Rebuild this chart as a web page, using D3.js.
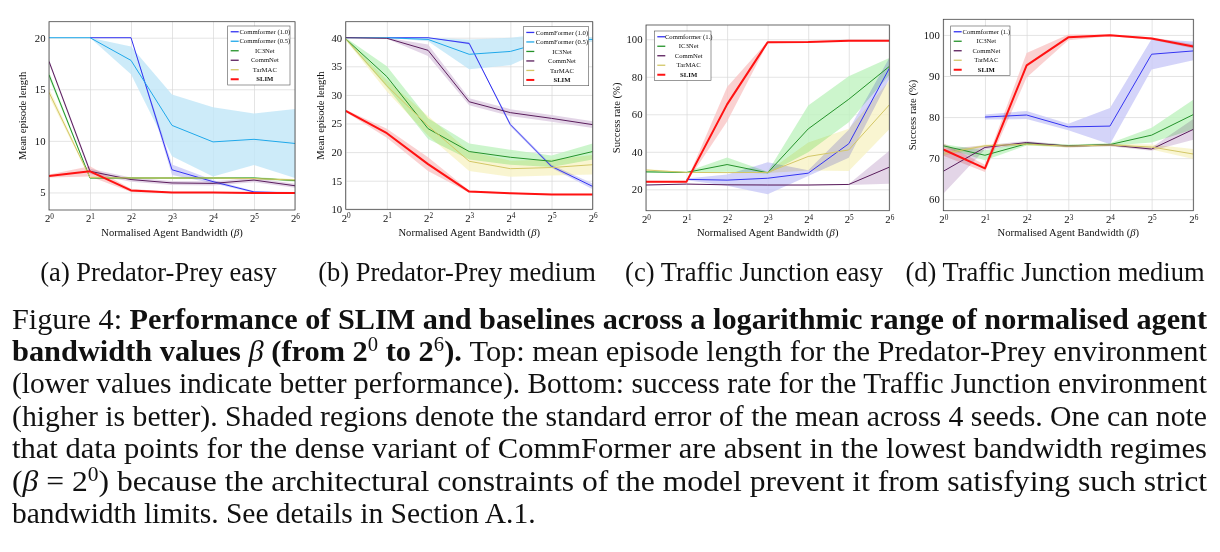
<!DOCTYPE html>
<html>
<head>
<meta charset="utf-8">
<script src="https://cdn.jsdelivr.net/npm/d3@7"></script>
<style>
  body { margin: 0; background: #fff; }
  svg text { font-family: "Liberation Serif", "DejaVu Serif", serif; fill: #111; }
</style>
</head>
<body>
<div id="chart"></div>
<script>
// normalised agent bandwidth values (beta = 2^0 .. 2^6)
let betas = [1, 2, 4, 8, 16, 32, 64];

// legend names
let ppEasyNames = ['Commformer (1.0)', 'Commformer (0.5)', 'IC3Net', 'CommNet', 'TarMAC', 'SLIM'];
let ppMediumNames = ['CommFormer (1.0)', 'CommFormer (0.5)', 'IC3Net', 'CommNet', 'TarMAC', 'SLIM'];
let tjNames = ['Commformer (1.)', 'IC3Net', 'CommNet', 'TarMAC', 'SLIM'];

// (a) Predator-Prey easy : mean episode length and standard error
let ppEasyCf10 = [null, 20, 20, 7.2, 6.05, 5.05, 4.95];
let ppEasyCf10Err = [null, 0, 0, 0.5, 0.15, 0.1, 0.1];
let ppEasyCf05 = [20, 20, 17.8, 11.5, 9.9, 10.15, 9.75];
let ppEasyCf05Err = [0, 0, 1.35, 3.0, 3.35, 2.5, 3.35];
let ppEasyIc3 = [16.4, 6.4, 6.4, 6.4, 6.4, 6.4, 6.15];
let ppEasyIc3Err = [0.3, 0.1, 0.1, 0.1, 0.1, 0.1, 0.1];
let ppEasyCommNet = [17.7, 7.05, 6.25, 5.92, 5.88, 6.2, 5.65];
let ppEasyCommNetErr = [0.2, 0.25, 0.2, 0.2, 0.2, 0.2, 0.2];
let ppEasyTarMAC = [14.7, 6.45, 6.4, 6.4, 6.4, 6.35, 6.2];
let ppEasyTarMACErr = [0.4, 0.1, 0.1, 0.1, 0.1, 0.1, 0.1];
let ppEasySlim = [6.6, 7.05, 5.2, 5.0, 5.0, 4.95, 4.95];
let ppEasySlimErr = [0.15, 0.5, 0.15, 0.05, 0.05, 0.05, 0.05];

// (b) Predator-Prey medium
let ppMedCf10 = [null, 40, 40, 39, 24.8, 17.5, 14.0];
let ppMedCf10Err = [null, 0, 0, 0.2, 0.3, 0.3, 0.5];
let ppMedCf05 = [40, 40, 39.7, 37.1, 37.6, 39.6, 39.7];
let ppMedCf05Err = [0, 0, 0.3, 2.6, 2.4, 1.2, 0.4];
let ppMedIc3 = [39.8, 33.2, 24.1, 20.1, 19.1, 18.4, 20.1];
let ppMedIc3Err = [0.2, 1.8, 1.8, 1.4, 1.3, 1.0, 1.4];
let ppMedCommNet = [40, 39.9, 37.8, 28.8, 26.9, 25.9, 24.8];
let ppMedCommNetErr = [0, 0.1, 1.0, 0.6, 0.6, 0.6, 0.6];
let ppMedTarMAC = [39.8, 31.6, 24.6, 18.4, 17.1, 17.3, 17.8];
let ppMedTarMACErr = [0.2, 1.0, 1.7, 1.7, 1.4, 1.4, 1.7];
let ppMedSlim = [27.2, 23.3, 17.9, 13.1, 12.8, 12.6, 12.6];
let ppMedSlimErr = [0.2, 0.8, 1.2, 0.2, 0.1, 0.1, 0.1];

// (c) Traffic Junction easy : success rate (%)
let tjEasyCf1 = [null, 25.3, 24.9, 25.9, 28.6, 44.3, 84.5];
let tjEasyCf1Err = [null, 0.5, 3, 8.5, 1.5, 7.5, 5.5];
let tjEasyIc3 = [29.3, 29.0, 33.2, 28.8, 52.2, 68.0, 85.5];
let tjEasyIc3Err = [0.5, 0.3, 3.8, 0.5, 12.5, 12.3, 4.5];
let tjEasyCommNet = [22.3, 22.8, 22.4, 22.3, 22.3, 22.6, 31.8];
let tjEasyCommNetErr = [0.2, 0.2, 0.2, 0.2, 0.2, 0.3, 8.8];
let tjEasyTarMAC = [30.3, 29.0, 28.9, 29.0, 37.5, 41.0, 65.0];
let tjEasyTarMACErr = [0.5, 0.2, 0.2, 0.3, 7.5, 11.3, 13];
let tjEasySlim = [24.0, 24.1, 65.3, 98.4, 98.5, 99.2, 99.2];
let tjEasySlimErr = [0.4, 0.4, 9.2, 0.5, 0.4, 0.3, 0.3];

// (d) Traffic Junction medium
let tjMedCf1 = [null, 80.0, 80.5, 77.6, 77.8, 95.3, 96.1];
let tjMedCf1Err = [null, 0.6, 1.0, 0.8, 4.4, 3.7, 2.3];
let tjMedIc3 = [73.0, 70.7, 73.5, 73.0, 73.3, 75.6, 80.6];
let tjMedIc3Err = [0.4, 1.2, 0.4, 0.3, 0.3, 1.8, 3.6];
let tjMedCommNet = [66.8, 72.6, 73.8, 72.9, 73.2, 72.2, 77.0];
let tjMedCommNetErr = [5.5, 0.5, 0.4, 0.3, 0.3, 0.4, 2.5];
let tjMedTarMAC = [71.1, 73.0, 73.4, 72.9, 73.2, 72.7, 71.0];
let tjMedTarMACErr = [0.5, 0.3, 0.3, 0.3, 0.3, 0.6, 1.2];
let tjMedSlim = [72.1, 67.5, 92.6, 99.4, 99.9, 99.1, 97.2];
let tjMedSlimErr = [1.5, 0.9, 3.0, 0.7, 0.2, 0.3, 0.5];

// y ticks
let ppEasyTicks = [5, 10, 15, 20];
let ppMedTicks = [10, 15, 20, 25, 30, 35, 40];
let tjEasyTicks = [20, 40, 60, 80, 100];
let tjMedTicks = [60, 70, 80, 90, 100];

// colours
let lineColor = { cf10: '#3434f2', cf05: '#1fa8ea', ic3: '#24922a', commnet: '#5a1d5c', tarmac: '#d3c767', slim: '#ff1212' };
let shadeColor = { cf10: '#c9c9f8', cf05: '#c0e6f8', ic3: '#bff3bf', commnet: '#dccae1', tarmac: '#f7f3c6', slim: '#f9c6c6' };

let config = {
  width: 1220,
  height: 552,
  axisFont: 10.7,
  titleFont: 10.6,
  legendFont: 6.7,
  subFont: 26.5,
  capFont: 29.5
};

function translate(x, y) {
  return 'translate(' + x + ',' + y + ')';
}

function makeSeries(keys, names, means, errs) {
  return keys.map(function(k, i) {
    return {
      key: k, name: names[i],
      points: betas.map(function(b, j) { return { b: b, m: means[i][j], e: errs[i][j] }; })
    };
  });
}

let ppKeys = ['cf10', 'cf05', 'ic3', 'commnet', 'tarmac', 'slim'];
let tjKeys = ['cf10', 'ic3', 'commnet', 'tarmac', 'slim'];

let panels = [
  {
    left: 49, right: 295, top: 21.7, bottom: 210, yDomain: [3.3, 21.55], yTicks: ppEasyTicks,
    yTitle: 'Mean episode length', yTitleX: 26, legend: { x: 227.7, y: 26, w: 62.3 },
    sub: '(a) Predator-Prey easy', subX: 158.5,
    series: makeSeries(ppKeys, ppEasyNames,
      [ppEasyCf10, ppEasyCf05, ppEasyIc3, ppEasyCommNet, ppEasyTarMAC, ppEasySlim],
      [ppEasyCf10Err, ppEasyCf05Err, ppEasyIc3Err, ppEasyCommNetErr, ppEasyTarMACErr, ppEasySlimErr])
  },
  {
    left: 345.7, right: 592.7, top: 21.7, bottom: 209.3, yDomain: [10, 42.8], yTicks: ppMedTicks,
    yTitle: 'Mean episode length', yTitleX: 323.5, legend: { x: 523.3, y: 26.7, w: 65.4 },
    sub: '(b) Predator-Prey medium', subX: 457,
    series: makeSeries(ppKeys, ppMediumNames,
      [ppMedCf10, ppMedCf05, ppMedIc3, ppMedCommNet, ppMedTarMAC, ppMedSlim],
      [ppMedCf10Err, ppMedCf05Err, ppMedIc3Err, ppMedCommNetErr, ppMedTarMACErr, ppMedSlimErr])
  },
  {
    left: 646, right: 889.3, top: 25, bottom: 210.7, yDomain: [8.6, 107.6], yTicks: tjEasyTicks,
    yTitle: 'Success rate (%)', yTitleX: 619.7, legend: { x: 654.3, y: 31, w: 56.7 },
    sub: '(c) Traffic Junction easy', subX: 754,
    series: makeSeries(tjKeys, tjNames,
      [tjEasyCf1, tjEasyIc3, tjEasyCommNet, tjEasyTarMAC, tjEasySlim],
      [tjEasyCf1Err, tjEasyIc3Err, tjEasyCommNetErr, tjEasyTarMACErr, tjEasySlimErr])
  },
  {
    left: 943.3, right: 1193.3, top: 19.3, bottom: 210.7, yDomain: [57.2, 103.8], yTicks: tjMedTicks,
    yTitle: 'Success rate (%)', yTitleX: 916.3, legend: { x: 950.7, y: 26, w: 59.3 },
    sub: '(d) Traffic Junction medium', subX: 1055,
    series: makeSeries(tjKeys, tjNames,
      [tjMedCf1, tjMedIc3, tjMedCommNet, tjMedTarMAC, tjMedSlim],
      [tjMedCf1Err, tjMedIc3Err, tjMedCommNetErr, tjMedTarMACErr, tjMedSlimErr])
  }
];

let svg = d3.select('#chart').append('svg')
  .attr('width', config.width)
  .attr('height', config.height);

// text with segments: {t, b (bold), i (italic), sup}
function writeSegments(text, segs, fs) {
  let pending = 0;
  let shift = fs * 0.32;
  segs.forEach(function(s) {
    let ts = text.append('tspan').text(s.t);
    if (s.b) ts.attr('font-weight', 'bold');
    if (s.i) ts.attr('font-style', 'italic');
    if (s.sup) {
      ts.attr('font-size', fs * 0.68).attr('dy', -shift - pending);
      pending = -shift;
    } else if (pending !== 0) {
      ts.attr('dy', -pending);
      pending = 0;
    }
  });
}

panels.forEach(function(p, pi) {
  let g = svg.append('g');
  let w = p.right - p.left, h = p.bottom - p.top;

  let x = d3.scaleLog().base(2).domain([1, 64]).range([p.left, p.right]);
  let y = d3.scaleLinear().domain(p.yDomain).range([p.bottom, p.top]);

  // x axis + vertical grid
  let xAxis = g.append('g')
    .attr('transform', translate(0, p.bottom))
    .call(d3.axisBottom(x).tickValues(betas).tickSizeInner(-h).tickSizeOuter(0).tickFormat(''));
  xAxis.select('.domain').remove();
  xAxis.selectAll('line').attr('stroke', '#d8d8d8').attr('stroke-width', 0.7);
  xAxis.selectAll('text').each(function(d) {
    let t = d3.select(this).attr('y', 12.3).attr('dy', null)
      .attr('font-size', config.axisFont).attr('fill', '#111');
    writeSegments(t, [{ t: '2' }, { t: String(Math.log2(d)), sup: true }], config.axisFont);
  });

  // y axis + horizontal grid
  let yAxis = g.append('g')
    .attr('transform', translate(p.left, 0))
    .call(d3.axisLeft(y).tickValues(p.yTicks).tickSizeInner(-w).tickSizeOuter(0).tickPadding(3.5));
  yAxis.select('.domain').remove();
  yAxis.selectAll('line').attr('stroke', '#d8d8d8').attr('stroke-width', 0.7);
  yAxis.selectAll('text').attr('font-size', config.axisFont).attr('fill', '#111')
    .style('font-family', '"Liberation Serif", serif');

  // clip
  g.append('clipPath').attr('id', 'clip' + pi)
    .append('rect').attr('x', p.left).attr('y', p.top).attr('width', w).attr('height', h);
  let plot = g.append('g').attr('clip-path', 'url(#clip' + pi + ')');

  let area = d3.area()
    .defined(function(d) { return d.m !== null; })
    .x(function(d) { return x(d.b); })
    .y0(function(d) { return y(d.m - d.e); })
    .y1(function(d) { return y(d.m + d.e); });
  let line = d3.line()
    .defined(function(d) { return d.m !== null; })
    .x(function(d) { return x(d.b); })
    .y(function(d) { return y(d.m); });

  plot.selectAll('path.shade')
    .data(p.series)
    .enter().append('path')
    .attr('class', 'shade')
    .attr('d', function(s) { return area(s.points); })
    .attr('fill', function(s) { return shadeColor[s.key]; })
    .attr('fill-opacity', 0.8)
    .style('mix-blend-mode', 'multiply');

  plot.selectAll('path.line')
    .data(p.series)
    .enter().append('path')
    .attr('class', 'line')
    .attr('d', function(s) { return line(s.points); })
    .attr('fill', 'none')
    .attr('stroke', function(s) { return lineColor[s.key]; })
    .attr('stroke-width', function(s) { return s.key === 'slim' ? 2 : 1; })
    .attr('stroke-linejoin', 'round');

  // frame
  g.append('rect')
    .attr('x', p.left).attr('y', p.top).attr('width', w).attr('height', h)
    .attr('fill', 'none').attr('stroke', '#444').attr('stroke-width', 0.8);

  // axis titles
  let xt = g.append('text')
    .attr('x', (p.left + p.right) / 2).attr('y', 235.5)
    .attr('text-anchor', 'middle').attr('font-size', config.titleFont);
  writeSegments(xt, [{ t: 'Normalised Agent Bandwidth (' }, { t: 'β', i: true }, { t: ')' }], config.titleFont);

  g.append('text')
    .attr('transform', translate(p.yTitleX, (p.top + p.bottom) / 2) + ' rotate(-90)')
    .attr('text-anchor', 'middle').attr('font-size', config.titleFont)
    .text(p.yTitle);

  // legend
  let rowH = 9.5;
  let lg = g.append('g');
  lg.append('rect')
    .attr('x', p.legend.x).attr('y', p.legend.y)
    .attr('width', p.legend.w).attr('height', p.series.length * rowH + 2)
    .attr('fill', '#fff').attr('stroke', '#555').attr('stroke-width', 0.6);
  p.series.forEach(function(s, i) {
    let ry = p.legend.y + 1 + rowH * (i + 0.5);
    lg.append('line')
      .attr('x1', p.legend.x + 3).attr('x2', p.legend.x + 11)
      .attr('y1', ry).attr('y2', ry)
      .attr('stroke', lineColor[s.key])
      .attr('stroke-width', s.key === 'slim' ? 2 : 1.3);
    lg.append('text')
      .attr('x', (p.legend.x + 13 + p.legend.x + p.legend.w) / 2 - 0.5)
      .attr('y', ry).attr('dy', '0.33em')
      .attr('text-anchor', 'middle')
      .attr('font-size', config.legendFont)
      .attr('font-weight', s.key === 'slim' ? 'bold' : null)
      .text(s.name);
  });

  // sub caption
  svg.append('text')
    .attr('x', p.subX).attr('y', 281)
    .attr('text-anchor', 'middle')
    .attr('font-size', config.subFont)
    .text(p.sub);
});

// figure caption
let captionLines = [
  [{ t: 'Figure 4: ' }, { t: 'Performance of SLIM and baselines across a logarithmic range of normalised agent', b: true }],
  [{ t: 'bandwidth values ', b: true }, { t: 'β', i: true }, { t: ' (from 2', b: true }, { t: '0', sup: true },
   { t: ' to 2', b: true }, { t: '6', sup: true }, { t: ').', b: true },
   { t: ' Top: mean episode length for the Predator-Prey environment' }],
  [{ t: '(lower values indicate better performance). Bottom: success rate for the Traffic Junction environment' }],
  [{ t: '(higher is better). Shaded regions denote the standard error of the mean across 4 seeds. One can note' }],
  [{ t: 'that data points for the dense variant of CommFormer are absent in the lowest bandwidth regimes' }],
  [{ t: '(' }, { t: 'β', i: true }, { t: ' = 2' }, { t: '0', sup: true },
   { t: ') because the architectural constraints of the model prevent it from satisfying such strict' }],
  [{ t: 'bandwidth limits. See details in Section A.1.' }]
];

let capLeft = 12, capRight = 1207, capTop = 328.5, capStep = 32.4;
captionLines.forEach(function(segs, i) {
  let t = svg.append('text')
    .attr('x', capLeft).attr('y', capTop + i * capStep)
    .attr('font-size', config.capFont);
  writeSegments(t, segs, config.capFont);
  // justify all lines except the last one
  if (i < captionLines.length - 1) {
    t.attr('textLength', capRight - capLeft).attr('lengthAdjust', 'spacingAndGlyphs');
  }
});
</script>
</body>
</html>
